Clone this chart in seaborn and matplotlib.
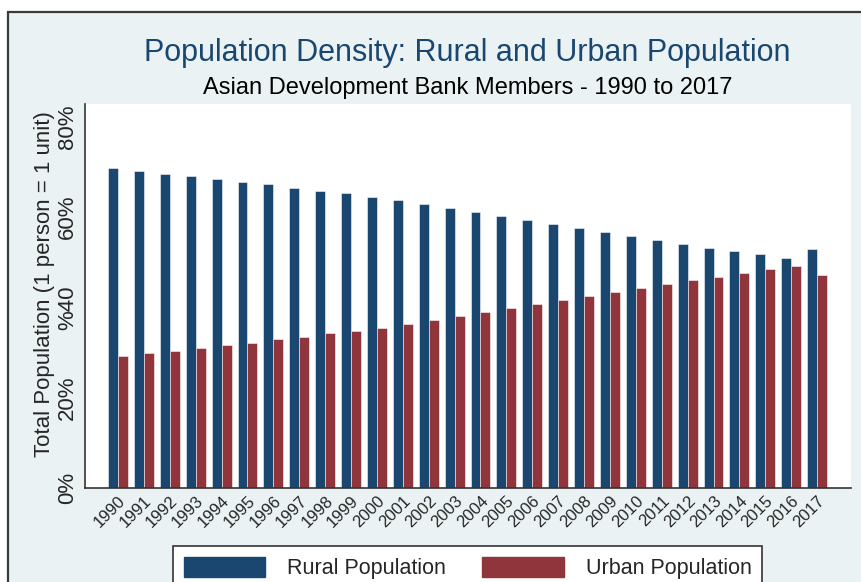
import pandas as pd
import seaborn as sns
import matplotlib.pyplot as plt
from matplotlib.patches import Rectangle, Patch

# values (% of total population)
years = list(range(1990, 2018))
rural = [70.8, 70.2, 69.6, 69.0, 68.4, 67.8, 67.2, 66.5, 65.8, 65.2,
         64.5, 63.7, 62.9, 61.9, 61.0, 60.2, 59.3, 58.4, 57.5, 56.7,
         55.8, 54.9, 54.1, 53.2, 52.4, 51.7, 50.9, 52.8]
urban = [29.2, 29.8, 30.4, 31.0, 31.6, 32.2, 32.9, 33.5, 34.2, 34.8,
         35.5, 36.3, 37.2, 38.1, 39.0, 39.8, 40.8, 41.6, 42.5, 43.3,
         44.3, 45.1, 46.0, 46.8, 47.6, 48.4, 49.1, 47.2]
series = ["Rural Population", "Urban Population"]
ytick_vals = [0, 20, 40, 60, 80]
ytick_labels = ["0%", "20%", "%40", "60%", "80%"]

navy = "#1A476F"
maroon = "#90353B"
bg = "#EAF2F3"

df = pd.DataFrame({
    "year": [str(y) for y in years] * 2,
    "value": rural + urban,
    "series": [series[0]] * len(years) + [series[1]] * len(years),
})

sns.set_style("white")
plt.rcParams["font.family"] = ["Liberation Sans", "DejaVu Sans"]

fig = plt.figure(figsize=(8.61, 5.82), dpi=100, facecolor="white")
# outer graph region (Stata-style), cropped at right and bottom
fig.add_artist(Rectangle((8 / 861, -0.2), 1.2, (582 - 12) / 582 + 0.2,
                         transform=fig.transFigure, facecolor=bg,
                         edgecolor="#3a3a3a", lw=1.6, zorder=0))

ax = fig.add_axes([85 / 861, 1 - 488 / 582, 766 / 861, 384 / 582])
ax.set_facecolor("white")
sns.barplot(data=df, x="year", y="value", hue="series", palette=[navy, maroon],
            width=0.77, saturation=1, edgecolor=(1, 1, 1, 0.6), linewidth=0.6,
            ax=ax, legend=False)

ax.set_xlim(-1.275, 28.31)
ax.set_ylim(0, 85)
ax.set_yticks(ytick_vals)
ax.set_yticklabels(ytick_labels, rotation=90, va="center", fontsize=16)
ax.tick_params(axis="y", length=0, pad=5)
ax.tick_params(axis="x", length=0, pad=4)
for lab in ax.get_xticklabels():
    lab.set_rotation(45)
    lab.set_ha("right")
    lab.set_rotation_mode("anchor")
    lab.set_fontsize(12)
ax.set_xlabel("")
ax.set_ylabel("Total Population (1 person = 1 unit)", fontsize=16)
ax.yaxis.set_label_coords(-0.039, 0.53)

for s in ["top", "right"]:
    ax.spines[s].set_visible(False)
for s in ["left", "bottom"]:
    ax.spines[s].set_color("#333333")
    ax.spines[s].set_linewidth(1.2)

fig.text(0.543, 1 - 53 / 582, "Population Density: Rural and Urban Population",
         ha="center", va="center", fontsize=22, color=navy)
fig.text(0.543, 1 - 88 / 582, "Asian Development Bank Members - 1990 to 2017",
         ha="center", va="center", fontsize=17, color="black")

handles = [Patch(facecolor=navy, edgecolor=navy), Patch(facecolor=maroon, edgecolor=maroon)]
leg = fig.legend(handles, series, loc="upper center", bbox_to_anchor=(0.543, 1 - 546 / 582),
                 ncol=2, frameon=True, fancybox=False, fontsize=15.5,
                 handlelength=3.8, handleheight=1.05, handletextpad=1.0,
                 columnspacing=1.7, borderpad=0.5, borderaxespad=0)
leg.get_frame().set_edgecolor("#333333")
leg.get_frame().set_linewidth(1.2)
leg.get_frame().set_facecolor("white")
leg.get_frame().set_alpha(1)

fig.savefig("out.png", dpi=100, facecolor="white")
